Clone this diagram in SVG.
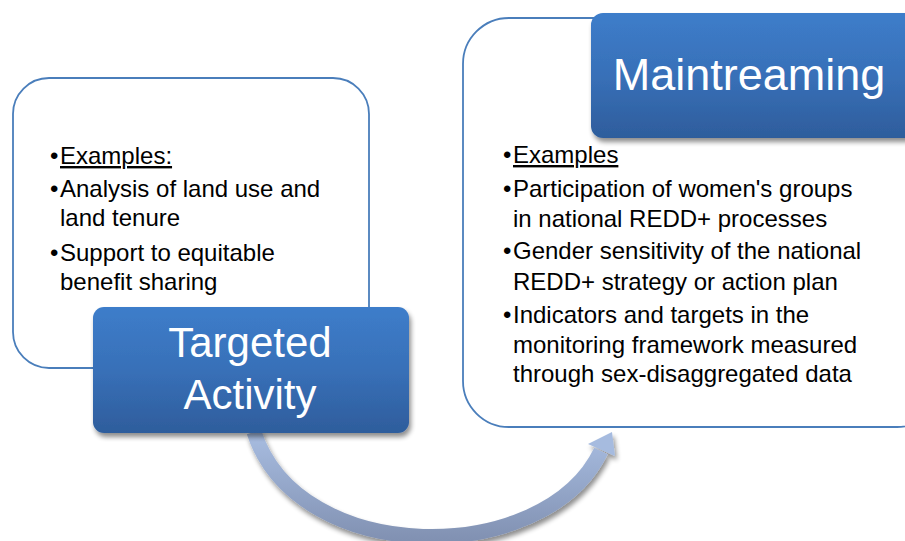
<svg xmlns="http://www.w3.org/2000/svg" width="905" height="541" viewBox="0 0 905 541">
<defs>
<linearGradient id="blueG" x1="0" y1="0" x2="0" y2="1">
<stop offset="0" stop-color="#3d7dca"/>
<stop offset="0.5" stop-color="#3870b8"/>
<stop offset="1" stop-color="#2e5d9c"/>
</linearGradient>
<linearGradient id="arrowG" x1="0" y1="430" x2="0" y2="540" gradientUnits="userSpaceOnUse">
<stop offset="0" stop-color="#a9bee2"/>
<stop offset="1" stop-color="#8191b2"/>
</linearGradient>
<filter id="shadow" x="-10%" y="-10%" width="125%" height="130%">
<feGaussianBlur in="SourceAlpha" stdDeviation="2.5"/>
<feOffset dx="2" dy="4" result="b"/>
<feComponentTransfer><feFuncA type="linear" slope="0.45"/></feComponentTransfer>
<feMerge><feMergeNode/><feMergeNode in="SourceGraphic"/></feMerge>
</filter>
<style>
.frame{fill:#ffffff;stroke:#4a7ebb;stroke-width:1.8}
.title{fill:url(#blueG);filter:url(#shadow)}
.big{font-family:"Liberation Sans",Arial,sans-serif;font-size:42px;fill:#ffffff;text-anchor:middle}
.txt{font-family:"Liberation Sans",Arial,sans-serif;font-size:24px;fill:#000000}
.u{text-decoration:underline}
</style>
</defs>
<g id="connectors">
<g filter="url(#shadow)">
<path d="M 254 432 C 298 568, 545 568, 601 451" fill="none" stroke="url(#arrowG)" stroke-width="15"/>
<polygon points="612,432 588,444 615,456" fill="#a6bbdf"/>
</g>
</g>
<g id="targeted-examples">
<rect class="frame" x="13" y="78" width="356" height="290" rx="36"/>
<text class="txt" x="50" y="164">•<tspan x="60" class="u">Examples:</tspan></text>
<text class="txt" x="50" y="197">•<tspan x="60">Analysis of land use and</tspan></text>
<text class="txt" x="60" y="226">land tenure</text>
<text class="txt" x="50" y="261">•<tspan x="60">Support to equitable</tspan></text>
<text class="txt" x="60" y="290">benefit sharing</text>
</g>
<g id="mainstreaming-examples">
<rect class="frame" x="463" y="18" width="480" height="409" rx="46"/>
<text class="txt" x="503" y="163">•<tspan x="513" class="u">Examples</tspan></text>
<text class="txt" x="503" y="197">•<tspan x="513">Participation of women's groups</tspan></text>
<text class="txt" x="513" y="227">in national REDD+ processes</text>
<text class="txt" x="503" y="259">•<tspan x="513">Gender sensitivity of the national</tspan></text>
<text class="txt" x="513" y="290">REDD+ strategy or action plan</text>
<text class="txt" x="503" y="323">•<tspan x="513">Indicators and targets in the</tspan></text>
<text class="txt" x="513" y="353">monitoring framework measured</text>
<text class="txt" x="513" y="382">through sex-disaggregated data</text>
</g>
<g id="targeted-activity">
<rect class="title" x="93" y="307" width="316" height="126" rx="11"/>
<text class="big" x="250" y="357">Targeted</text>
<text class="big" x="250" y="409">Activity</text>
</g>
<g id="maintreaming">
<rect class="title" x="591" y="13" width="330" height="125" rx="12"/>
<text class="big" x="749" y="90" style="font-size:45px">Maintreaming</text>
</g>
</svg>
